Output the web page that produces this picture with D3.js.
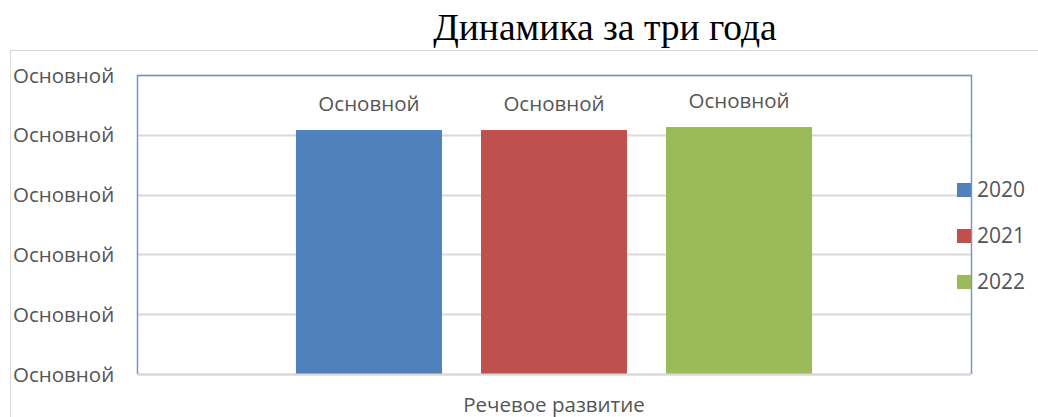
<!DOCTYPE html>
<html>
<head>
<meta charset="utf-8">
<script src="https://cdn.jsdelivr.net/npm/d3@7"></script>
<style>
  body { margin: 0; background: #fff; }
  svg { display: block; }
  .tick text, .lbl, .leg text { font-family: "Open Sans", sans-serif; fill: #555; }
</style>
</head>
<body>
<script>
// data
const categories = ["Речевое развитие"]
const years = ["2020", "2021", "2022"]
const values = [4.08, 4.08, 4.13]
const yTicks = [0, 1, 2, 3, 4, 5]
const tickLabel = "Основной"
const colors = ["#4F81BD", "#C0504D", "#9BBB59"]

const W = 1038, H = 417
const plot = { left: 137, top: 75, right: 971, bottom: 374 }

const svg = d3.select("body").append("svg")
  .attr("width", W)
  .attr("height", H)

// outer chart frame (clipped by window)
svg.append("line")
  .attr("x1", 10.5).attr("x2", W).attr("y1", 50.5).attr("y2", 50.5)
  .attr("stroke", "#D9D9D9")
svg.append("line")
  .attr("x1", 10.5).attr("x2", 10.5).attr("y1", 50.5).attr("y2", H)
  .attr("stroke", "#D9D9D9")

svg.append("text")
  .attr("x", 605)
  .attr("y", 40)
  .attr("text-anchor", "middle")
  .style("font-family", "'Liberation Serif', 'Times New Roman', serif")
  .style("font-size", "37.5px")
  .attr("fill", "#000")
  .text("Динамика за три года")

const y = d3.scaleLinear()
  .domain([0, 5])
  .range([plot.bottom, plot.top])

const x0 = d3.scaleBand()
  .domain(categories)
  .range([plot.left, plot.right])
  .paddingOuter(0.308)

const x1 = d3.scaleBand()
  .domain(years)
  .range([0, x0.bandwidth()])
  .paddingInner(0.211)
  .paddingOuter(0)

// gridlines
svg.append("g")
  .selectAll("line")
  .data(yTicks)
  .enter().append("line")
    .attr("x1", plot.left).attr("x2", plot.right)
    .attr("y1", d => Math.round(y(d)) + 0.5)
    .attr("y2", d => Math.round(y(d)) + 0.5)
    .attr("stroke", "#D9D9D9")
    .attr("stroke-width", 2)

// y axis labels
const yAxis = d3.axisLeft(y)
  .tickValues(yTicks)
  .tickFormat(() => tickLabel)
  .tickSize(0)

svg.append("g")
  .attr("transform", "translate(" + plot.left + ",0)")
  .call(yAxis)
  .call(g => g.select(".domain").remove())
  .call(g => g.selectAll("text")
    .attr("x", 13 - plot.left)
    .attr("text-anchor", "start")
    .attr("dy", "0.35em")
    .style("font-size", "20.5px"))

// plot border (left, top, right)
svg.append("path")
  .attr("d", `M${plot.left + 0.5},${plot.bottom}V${plot.top + 0.5}H${plot.right + 0.5}V${plot.bottom}`)
  .attr("fill", "none")
  .attr("stroke", "#6F98D2")
  .attr("stroke-width", 1.5)

// bars
const g = svg.append("g")
  .attr("transform", "translate(" + x0(categories[0]) + ",0)")

g.selectAll(".bar")
  .data(values)
  .enter().append("rect")
    .attr("class", "bar")
    .attr("x", (d, i) => x1(years[i]))
    .attr("width", x1.bandwidth())
    .attr("y", d => y(d))
    .attr("height", d => plot.bottom - y(d))
    .attr("fill", (d, i) => colors[i])

g.selectAll(".lbl")
  .data(values)
  .enter().append("text")
    .attr("class", "lbl")
    .attr("x", (d, i) => x1(years[i]) + x1.bandwidth() / 2)
    .attr("y", d => y(d) - 19)
    .attr("text-anchor", "middle")
    .style("font-size", "20.5px")
    .text(tickLabel)

// x axis
const xAxis = d3.axisBottom(x0).tickSize(0)
svg.append("g")
  .attr("transform", "translate(0," + plot.bottom + ")")
  .call(xAxis)
  .call(g => g.select(".domain").attr("stroke", "#D9D9D9").attr("stroke-width", 2))
  .call(g => g.selectAll("text")
    .attr("dy", 0)
    .attr("y", 38)
    .style("font-size", "20.5px"))

// legend
const leg = svg.append("g").attr("class", "leg")
const legY = [190, 236, 282]
years.forEach((yr, i) => {
  leg.append("rect")
    .attr("x", 957).attr("y", legY[i] - 7)
    .attr("width", 14).attr("height", 14)
    .attr("fill", colors[i])
  leg.append("text")
    .attr("x", 977).attr("y", legY[i])
    .attr("dy", "0.35em")
    .style("font-size", "21px")
    .text(yr)
})
</script>
</body>
</html>
